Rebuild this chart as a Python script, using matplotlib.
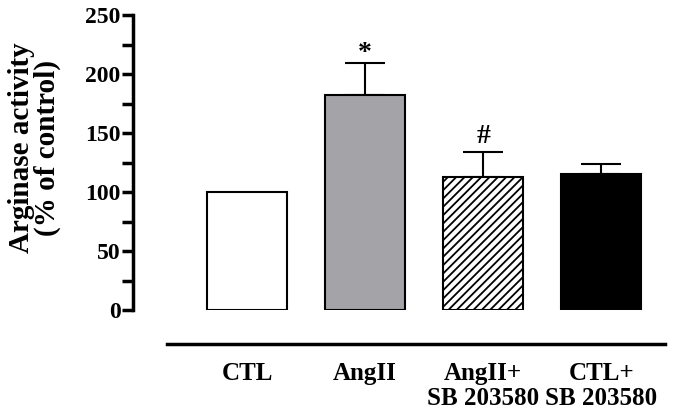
import matplotlib
matplotlib.use('Agg')
import matplotlib.pyplot as plt

# data
groups = ['CTL', 'AngII', 'AngII+\nSB 203580', 'CTL+\nSB 203580']
values = [100, 182, 113, 115]
errors = [0, 27, 21, 9]
marks = ['', '*', '#', '']

plt.rcParams['font.family'] = 'Liberation Serif'
plt.rcParams['font.weight'] = 'bold'
plt.rcParams['hatch.linewidth'] = 1.3

fig = plt.figure(figsize=(6.87, 4.16), dpi=100)
ax = fig.add_axes([133/687, 1-310/416, 532/687, 295/416])

x = range(len(groups))
faces = ['white', '#a4a3a8', 'white', 'black']
hatches = [None, None, '////', None]
# the asterisk glyph sits high above its baseline, so it needs less gap
mark_gap = {'*': 2.5, '#': 7.5}
mark_size = {'*': 20, '#': 20}
for i in x:
    ax.bar(i, values[i], width=0.68, color=faces[i], edgecolor='black',
           linewidth=1.5, hatch=hatches[i], zorder=2)
    if errors[i] > 0:
        ax.errorbar(i, values[i], yerr=[[0], [errors[i]]], fmt='none',
                    ecolor='black', elinewidth=1.5, capsize=14.5, capthick=1.5, zorder=1)
    if marks[i]:
        ax.text(i, values[i] + errors[i] + mark_gap[marks[i]], marks[i],
                ha='center', va='baseline', fontsize=mark_size[marks[i]],
                fontweight='bold')

ax.set_xlim(-0.966, 3.54)
ax.set_ylim(0, 250)
ax.set_yticks(range(0, 251, 50))
ax.set_yticks(range(25, 250, 50), minor=True)
ax.tick_params(axis='y', which='major', length=8, width=2.5, labelsize=17, pad=1)
ax.tick_params(axis='y', which='minor', length=8, width=2.5)
ax.spines['left'].set_linewidth(2.5)
for s in ['top', 'right']:
    ax.spines[s].set_visible(False)

# bottom rule offset below the bars
ax.spines['bottom'].set_position(('outward', 24.5))
ax.spines['bottom'].set_linewidth(2.5)
ax.spines['bottom'].set_bounds(-0.68, 3.54)
ax.set_xticks(list(x))
ax.set_xticklabels(groups, fontsize=18, fontweight='bold', linespacing=1.1, va='top')
ax.tick_params(axis='x', length=0, pad=13)

ax.set_ylabel('Arginase activity\n(% of control)', fontsize=21, fontweight='bold',
              linespacing=0.95)
ax.yaxis.set_label_coords(-0.135, 0.55)

fig.savefig('out.png', dpi=100)
